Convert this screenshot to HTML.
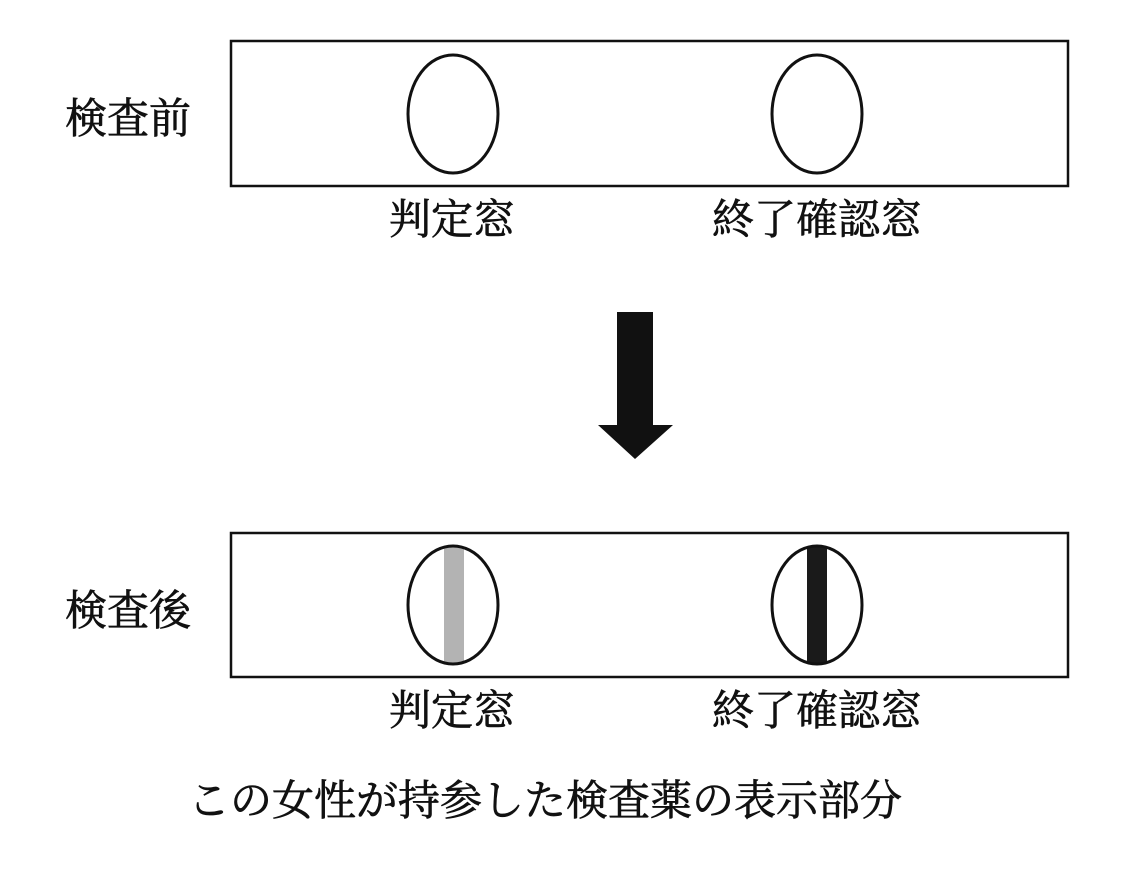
<!DOCTYPE html>
<html><head><meta charset="utf-8"><style>
html,body{margin:0;padding:0;background:#fff;}
svg{display:block;}
text{font-family:"Liberation Serif","Noto Serif CJK SC","Noto Serif CJK JP",serif;font-size:42px;fill:#111;stroke:#111;stroke-width:0.7px;}
</style></head><body>
<svg width="1136" height="878" viewBox="0 0 1136 878" xmlns="http://www.w3.org/2000/svg">
<rect x="231" y="41" width="837" height="145" fill="#fff" stroke="#111" stroke-width="2.5"/>
<ellipse cx="453" cy="114" rx="45" ry="59" fill="#fff" stroke="#111" stroke-width="3"/>
<ellipse cx="817" cy="114" rx="45" ry="59" fill="#fff" stroke="#111" stroke-width="3"/>
<text x="65" y="133">検査前</text>
<text x="389" y="234">判定窓</text>
<text x="712" y="234">終了確認窓</text>

<polygon points="617,312 653,312 653,425 673,425 635,459 598,425 617,425" fill="#111"/>

<rect x="231" y="533" width="837" height="144" fill="#fff" stroke="#111" stroke-width="2.5"/>
<defs>
<clipPath id="c1"><ellipse cx="453" cy="605" rx="45" ry="59"/></clipPath>
<clipPath id="c2"><ellipse cx="817" cy="605" rx="45" ry="59"/></clipPath>
</defs>
<rect x="444" y="540" width="20" height="130" fill="#b3b3b3" clip-path="url(#c1)"/>
<rect x="807" y="540" width="20" height="130" fill="#1a1a1a" clip-path="url(#c2)"/>
<ellipse cx="453" cy="605" rx="45" ry="59" fill="none" stroke="#111" stroke-width="3"/>
<ellipse cx="817" cy="605" rx="45" ry="59" fill="none" stroke="#111" stroke-width="3"/>
<text x="65" y="625">検査後</text>
<text x="389" y="725">判定窓</text>
<text x="712" y="725">終了確認窓</text>

<text x="188" y="815">この女性が持参した検査薬の表示部分</text>
</svg>
</body></html>
